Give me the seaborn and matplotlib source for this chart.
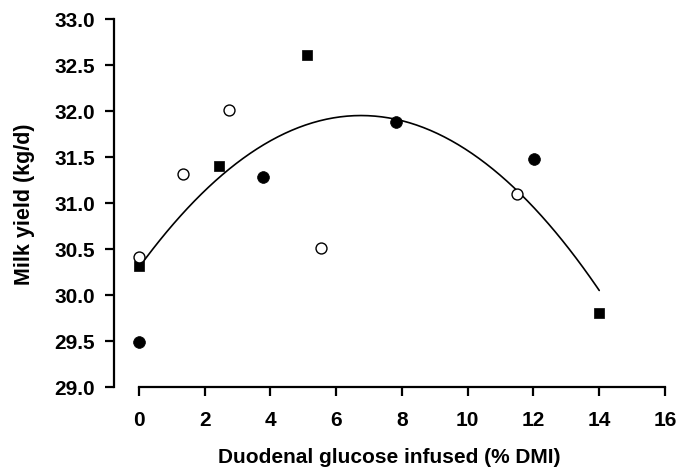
import numpy as np
import pandas as pd
import matplotlib
matplotlib.use("Agg")
import matplotlib.pyplot as plt
import seaborn as sns

# data
sq_x = [0.0, 2.44, 5.12, 13.99]
sq_y = [30.32, 31.40, 32.61, 29.80]
open_x = [0.0, 1.34, 2.74, 5.55, 11.51]
open_y = [30.41, 31.31, 32.01, 30.51, 31.10]
filled_x = [0.0, 3.78, 7.81, 12.02]
filled_y = [29.49, 31.28, 31.88, 31.48]

# quadratic response curve (intercept, linear, quadratic)
curve_coef = [30.30, 0.4889, -0.0362]
curve_range = [0.0, 14.0]

x_ticks = [0, 2, 4, 6, 8, 10, 12, 14, 16]
y_ticks = [29.0, 29.5, 30.0, 30.5, 31.0, 31.5, 32.0, 32.5, 33.0]

sns.set_style("ticks")
plt.rcParams['font.family'] = ['Liberation Sans', 'DejaVu Sans']
plt.rcParams['font.weight'] = 'bold'
plt.rcParams['text.color'] = 'black'
plt.rcParams['axes.labelcolor'] = 'black'

fig = plt.figure(figsize=(6.77, 4.77), dpi=100)
ax = fig.add_axes([114 / 677, 1 - 388 / 477, (665 - 114) / 677, (388 - 20) / 477])

# fitted curve
xs = np.linspace(curve_range[0], curve_range[1], 200)
curve = pd.DataFrame({'x': xs, 'y': curve_coef[0] + curve_coef[1] * xs + curve_coef[2] * xs ** 2})
sns.lineplot(data=curve, x='x', y='y', color='black', linewidth=1.2, ax=ax)

# three groups of points
sns.scatterplot(x=sq_x, y=sq_y, marker='s', s=50, color='black', edgecolor='black',
                linewidth=0.5, ax=ax, zorder=3)
sns.scatterplot(x=open_x, y=open_y, marker='o', s=62, facecolor='white', edgecolor='black',
                linewidth=1.0, ax=ax, zorder=3)
sns.scatterplot(x=filled_x, y=filled_y, marker='o', s=72, color='black', edgecolor='black',
                linewidth=0.5, ax=ax, zorder=3)

ax.set_xlim(-0.76, 16)
ax.set_ylim(29, 33)
ax.set_xticks(x_ticks)
ax.set_yticks(y_ticks)
ax.set_xticklabels([str(t) for t in x_ticks])
ax.set_yticklabels([f"{t:.1f}" for t in y_ticks])

sns.despine(ax=ax)
ax.spines['bottom'].set_bounds(0, 16)
for side in ['left', 'bottom']:
    ax.spines[side].set_linewidth(1.6)
    ax.spines[side].set_color('black')
ax.tick_params(axis='both', direction='out', length=6.5, width=1.6, color='black',
               labelsize=15, labelcolor='black')
ax.tick_params(axis='x', pad=10)
ax.tick_params(axis='y', pad=7)

ax.set_xlabel('Duodenal glucose infused (% DMI)', fontsize=15, fontweight='bold',
              labelpad=13, color='black')
ax.set_ylabel('Milk yield (kg/d)', fontsize=15.5, fontweight='bold', labelpad=14, color='black')
for lab in ax.get_xticklabels() + ax.get_yticklabels():
    lab.set_fontweight('bold')

fig.savefig('out.png', dpi=100)
